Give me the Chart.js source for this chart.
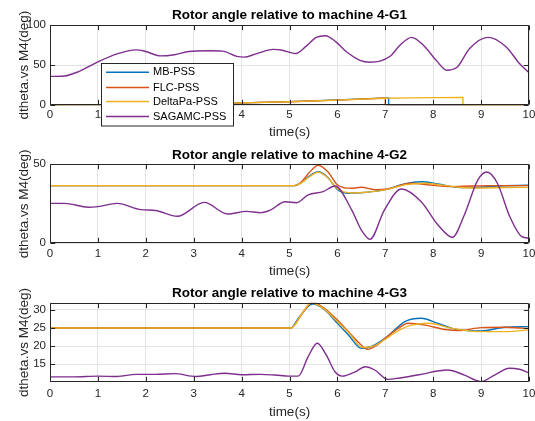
<!DOCTYPE html>
<html><head><meta charset="utf-8">
<script src="https://cdn.jsdelivr.net/npm/chart.js@4/dist/chart.umd.min.js"></script>
<style>
html,body{margin:0;padding:0;background:#fff;}
#wrap{position:relative;width:535px;height:421px;overflow:hidden;background:#fff;}
canvas{position:absolute;left:0;}
</style></head><body>
<div id="wrap">
<canvas id="c1" width="535" height="140" style="top:0px"></canvas>
<canvas id="c2" width="535" height="140" style="top:140px"></canvas>
<canvas id="c3" width="535" height="142" style="top:279px"></canvas>
</div>
<script>
// ---------- labels ----------
const seriesNames = ['MB-PSS', 'FLC-PSS', 'DeltaPa-PSS', 'SAGAMC-PSS'];
const seriesColors = ['#0072BD', '#D95319', '#EDB120', '#7E2F8E'];
const plotTitles = ['Rotor angle relative to machine 4-G1', 'Rotor angle relative to machine 4-G2', 'Rotor angle relative to machine 4-G3'];
const xLabel = 'time(s)';
const yLabel = 'dtheta.vs M4(deg)';
const xTicks = [0, 1, 2, 3, 4, 5, 6, 7, 8, 9, 10];
const yTicks1 = [0, 50, 100];
const yTicks2 = [0, 50];
const yTicks3 = [15, 20, 25, 30];

// ---------- G1 ----------
const g1MbT = [0, 1, 2, 3, 4, 5, 6, 7.07, 7.07, 10];
const g1MbV = [0, 0.2, 0.7, 1.7, 3.0, 4.6, 6.7, 9.2, 0, 0];
const g1FlcT = [0, 1, 2, 3, 4, 5, 6, 7.0, 7.0, 10];
const g1FlcV = [0, 0.2, 0.7, 1.7, 3.0, 4.5, 6.5, 9.0, 0, 0];
const g1DpT = [0, 1, 2, 3, 4, 5, 6, 7, 7.5, 8, 8.62, 8.62, 10];
const g1DpV = [0, 0.2, 0.7, 1.7, 3.0, 4.5, 6.5, 8.8, 9.2, 9.5, 9.7, 0, 0];
const g1SgT = [0, 0.3, 0.6, 1.0, 1.4, 1.8, 2.0, 2.3, 2.6, 2.9, 3.3, 3.6, 3.9, 4.05, 4.3, 4.66, 4.85, 5.0, 5.14, 5.35, 5.56, 5.75, 5.97, 6.19, 6.47, 6.68, 6.89, 7.1, 7.31, 7.55, 7.79, 8.07, 8.28, 8.49, 8.76, 9.14, 9.52, 9.8, 10];
const g1SgV = [36, 36.5, 42, 54, 64, 69, 67, 61.5, 63, 67, 68, 67.5, 61, 60, 64, 69.6, 68.5, 66, 64.6, 73.7, 84.6, 86.7, 79, 66.6, 56, 53.7, 55, 61, 75, 84.6, 75, 55.5, 43.7, 47, 70.8, 84.6, 73, 52, 40.8];

// ---------- G2 ----------
const g2MbT = [0, 5.1, 5.25, 5.4, 5.6, 5.8, 6.0, 6.2, 6.5, 6.8, 7.0, 7.4, 7.75, 8.1, 8.5, 8.9, 9.3, 10];
const g2MbV = [36.5, 36.5, 38.5, 42.2, 45.3, 41.7, 34, 31.7, 32, 33, 34, 37.6, 39, 37.6, 35.5, 35.3, 36.2, 36.7];
const g2FlcT = [0, 5.1, 5.25, 5.4, 5.6, 5.8, 6.0, 6.15, 6.3, 6.5, 6.78, 7.05, 7.53, 7.94, 8.36, 8.78, 9.34, 10];
const g2FlcV = [36.5, 36.5, 39, 44.3, 49.4, 45.3, 37, 35.1, 34.8, 35.5, 34, 34.4, 38, 36.9, 35.9, 36.3, 36.5, 36.5];
const g2DpT = [0, 5.1, 5.25, 5.4, 5.6, 5.8, 6.0, 6.3, 6.6, 7.0, 7.4, 7.8, 8.2, 8.6, 9.0, 9.5, 10];
const g2DpV = [36.5, 36.5, 38.3, 41.8, 45, 41.5, 34.5, 31.8, 32.3, 33.8, 37, 38, 36.8, 35.3, 35, 35.3, 35.4];
const g2SgT = [0, 0.3, 0.8, 1.0, 1.4, 1.9, 2.2, 2.66, 3.22, 3.71, 4.1, 4.4, 4.6, 4.91, 5.15, 5.39, 5.7, 5.95, 6.3, 6.5, 6.68, 6.98, 7.34, 7.75, 8.1, 8.4, 8.65, 8.93, 9.12, 9.34, 9.6, 9.85, 10];
const g2SgV = [25.3, 25.3, 22.8, 23.2, 25.3, 21.3, 20.8, 17.1, 25.9, 18.5, 20.2, 19.4, 21, 26.3, 25.7, 30.6, 32.7, 36.3, 21, 8.4, 2.5, 21, 34.4, 26.3, 11.6, 3.8, 17.9, 40, 45.1, 38, 16.8, 4.2, 3.2];

// ---------- G3 ----------
const g3MbT = [0, 5.03, 5.2, 5.48, 5.72, 6.0, 6.23, 6.5, 6.71, 7.0, 7.41, 7.75, 8.1, 8.53, 9.0, 9.5, 10];
const g3MbV = [25, 25, 28, 31.6, 30.2, 26.3, 23.1, 19.4, 19.9, 22.2, 26.8, 27.7, 26.3, 24.5, 24.2, 25.2, 25.4];
const g3FlcT = [0, 5.03, 5.27, 5.48, 5.72, 6.0, 6.23, 6.43, 6.63, 6.83, 7.0, 7.27, 7.48, 7.83, 8.25, 8.53, 9.0, 9.5, 10];
const g3FlcV = [25, 25, 29.1, 32.2, 30.5, 27.2, 24, 21.2, 19.1, 20.3, 22.2, 24.9, 26.3, 25.8, 24.6, 24.3, 25.1, 25.2, 24.8];
const g3DpT = [0, 5.03, 5.25, 5.45, 5.7, 6.0, 6.25, 6.53, 6.75, 7.0, 7.3, 7.55, 7.9, 8.4, 8.93, 9.5, 10];
const g3DpV = [25, 25, 28.8, 31.9, 30.5, 26.8, 23.5, 19.6, 20, 21.9, 24.5, 25.8, 26.3, 24.9, 24, 24, 24.5];
const g3SgT = [0, 0.5, 1.0, 1.4, 1.8, 2.2, 2.6, 3.05, 3.35, 3.65, 4.0, 4.4, 4.7, 5.0, 5.18, 5.39, 5.58, 5.77, 5.95, 6.1, 6.37, 6.58, 6.78, 7.05, 7.3, 7.7, 8.3, 8.65, 9.0, 9.28, 9.59, 9.8, 10];
const g3SgV = [11.5, 11.5, 11.7, 11.6, 12.2, 12.2, 12.4, 11.6, 12.1, 12.5, 12.1, 12.2, 12.0, 11.7, 11.7, 17.1, 20.8, 17.5, 12.9, 11.7, 12.9, 14.3, 13.4, 10.8, 11.2, 12.1, 13.4, 12.0, 10.2, 12.0, 13.9, 13.6, 12.6];

// ---------- rendering ----------
const FONT = "'Liberation Sans', Arial, Helvetica, sans-serif";
const AXIS_COLOR = '#262626';
const GRID_COLOR = '#e4e4e4';

const framePlugin = {
  id: 'frame',
  afterDraw(chart, args, opts) {
    const {ctx, chartArea: a, scales} = chart;
    ctx.save();
    // axes title centred over the plot area
    ctx.fillStyle = '#000';
    ctx.font = 'bold 13.5px ' + FONT;
    ctx.textAlign = 'center';
    ctx.textBaseline = 'middle';
    ctx.fillText(opts.title, (a.left + a.right) / 2, opts.titleY);
    // box + inward tick marks
    ctx.strokeStyle = AXIS_COLOR;
    ctx.lineWidth = 1;
    const L = Math.round(a.left) + 0.5, R = Math.round(a.right) - 0.5;
    const T = Math.round(a.top) + 0.5, B = Math.round(a.bottom) - 0.5;
    ctx.beginPath();
    ctx.rect(L, T, R - L, B - T);
    const tl = 4.7;
    scales.x.ticks.forEach(t => {
      const px = Math.round(scales.x.getPixelForValue(t.value)) + 0.5;
      ctx.moveTo(px, B); ctx.lineTo(px, B - tl);
      ctx.moveTo(px, T); ctx.lineTo(px, T + tl);
    });
    scales.y.ticks.forEach(t => {
      const py = Math.round(scales.y.getPixelForValue(t.value)) + 0.5;
      ctx.moveTo(L, py); ctx.lineTo(L + tl, py);
      ctx.moveTo(R, py); ctx.lineTo(R - tl, py);
    });
    ctx.stroke();
    ctx.restore();
  }
};

const legendPlugin = {
  id: 'boxLegend',
  afterDraw(chart) {
    const ctx = chart.ctx;
    const bx = 101.5, by = 63.5, bw = 132, bh = 62.5;
    ctx.save();
    ctx.fillStyle = '#fff';
    ctx.fillRect(bx, by, bw, bh);
    ctx.strokeStyle = AXIS_COLOR;
    ctx.lineWidth = 1;
    ctx.strokeRect(bx, by, bw, bh);
    const rows = [72.3, 87.5, 101.5, 116.5];
    ctx.font = '11px ' + FONT;
    ctx.textBaseline = 'middle';
    ctx.textAlign = 'left';
    seriesNames.forEach((n, i) => {
      ctx.strokeStyle = seriesColors[i];
      ctx.lineWidth = 1.4;
      ctx.beginPath();
      ctx.moveTo(106, rows[i]); ctx.lineTo(149, rows[i]);
      ctx.stroke();
      ctx.fillStyle = '#000';
      ctx.fillText(n, 153, rows[i]);
    });
    ctx.restore();
  }
};

function pts(t, v) { return t.map((x, k) => ({x: x, y: v[k]})); }

function makeChart(id, cfg) {
  const datasets = cfg.series.map((s, i) => ({
    label: seriesNames[i],
    data: pts(s[0], s[1]),
    borderColor: seriesColors[i],
    backgroundColor: seriesColors[i],
    borderWidth: 1.4,
    pointRadius: 0,
    fill: false,
    cubicInterpolationMode: cfg.step ? 'default' : 'monotone',
    tension: 0,
    order: (i === 3) ? 0 : 3 - i
  }));
  if (cfg.step) datasets[3].cubicInterpolationMode = 'monotone';
  return new Chart(document.getElementById(id), {
    type: 'line',
    data: {datasets},
    options: {
      responsive: false,
      animation: false,
      devicePixelRatio: 1,
      layout: {padding: {left: 0, right: 6, top: cfg.areaTop, bottom: 0}},
      plugins: {
        legend: {display: false},
        tooltip: {enabled: false},
        title: {display: false},
        frame: {title: cfg.title, titleY: cfg.titleY}
      },
      scales: {
        x: {
          type: 'linear', min: 0, max: 10,
          afterBuildTicks: s => { s.ticks = xTicks.map(v => ({value: v})); },
          afterFit: s => { s.height = cfg.xAxisH; s.paddingLeft = 0; s.paddingRight = 0; },
          grid: {color: GRID_COLOR, drawTicks: false, lineWidth: 1},
          border: {display: false},
          ticks: {padding: cfg.xTickPad, color: AXIS_COLOR, font: {family: FONT, size: 11.5}, maxRotation: 0, autoSkip: false},
          title: {display: true, text: xLabel, color: AXIS_COLOR, font: {family: FONT, size: 13.5, lineHeight: 1.2}, padding: {top: 0, bottom: cfg.xTitlePad}}
        },
        y: {
          type: 'linear', min: cfg.yMin, max: cfg.yMax,
          afterBuildTicks: s => { s.ticks = cfg.yTicks.map(v => ({value: v})); },
          afterFit: s => { s.width = 50; s.paddingTop = 0; s.paddingBottom = 0; },
          grid: {color: GRID_COLOR, drawTicks: false, lineWidth: 1},
          border: {display: false},
          ticks: {padding: 4, color: AXIS_COLOR, font: {family: FONT, size: 11.5}},
          title: {display: true, text: yLabel, color: AXIS_COLOR, font: {family: FONT, size: 13.5, lineHeight: 1.2}, padding: {top: 15.9, bottom: 0}}
        }
      }
    },
    plugins: cfg.legend ? [framePlugin, legendPlugin] : [framePlugin]
  });
}

makeChart('c1', {
  title: plotTitles[0], step: true, legend: true,
  series: [[g1MbT, g1MbV], [g1FlcT, g1FlcV], [g1DpT, g1DpV], [g1SgT, g1SgV]],
  yMin: 0, yMax: 100, yTicks: yTicks1,
  areaTop: 25, titleY: 15, xAxisH: 34.7, xTickPad: 2.3, xTitlePad: -0.6
});
makeChart('c2', {
  title: plotTitles[1],
  series: [[g2MbT, g2MbV], [g2FlcT, g2FlcV], [g2DpT, g2DpV], [g2SgT, g2SgV]],
  yMin: 0, yMax: 50, yTicks: yTicks2,
  areaTop: 24.3, titleY: 15, xAxisH: 36.7, xTickPad: 3.8, xTitlePad: 0.9
});
makeChart('c3', {
  title: plotTitles[2],
  series: [[g3MbT, g3MbV], [g3FlcT, g3FlcV], [g3DpT, g3DpV], [g3SgT, g3SgV]],
  yMin: 10, yMax: 32, yTicks: yTicks3,
  areaTop: 23.7, titleY: 14.3, xAxisH: 38.7, xTickPad: 4.8, xTitlePad: 0.4
});
</script>
</body></html>
